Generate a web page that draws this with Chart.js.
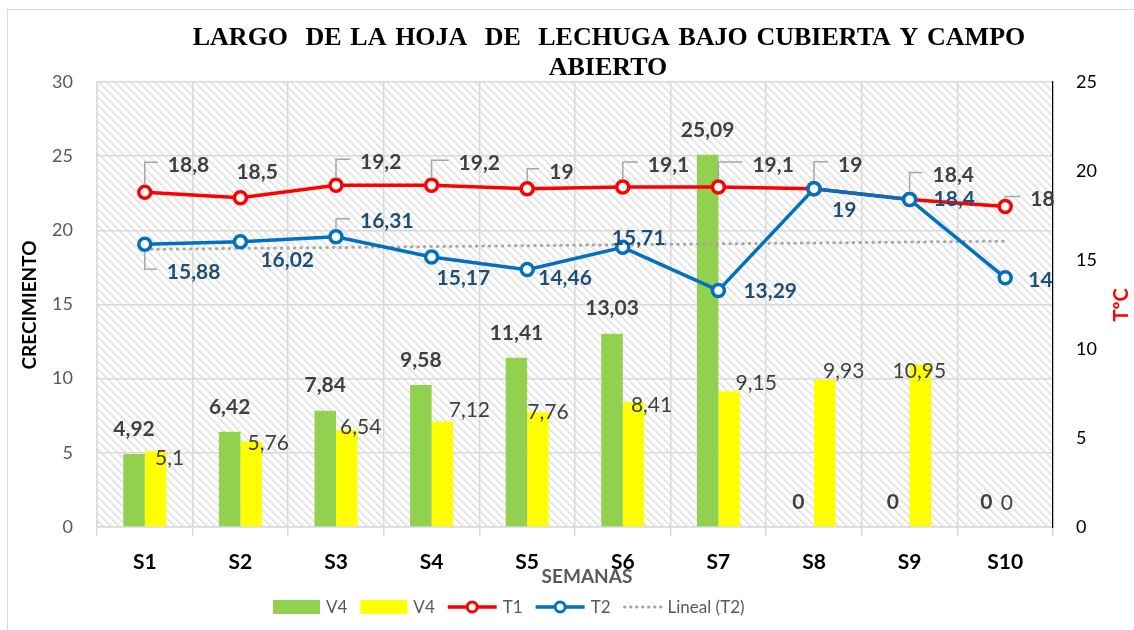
<!DOCTYPE html>
<html>
<head>
<meta charset="utf-8">
<script src="https://cdn.jsdelivr.net/npm/chart.js@4.4.1/dist/chart.umd.min.js"></script>
<style>
  html, body { margin: 0; padding: 0; background: #fff; }
  #wrap { width: 1134px; height: 630px; position: relative; }
</style>
</head>
<body>
<div id="wrap"><canvas id="grafico"></canvas></div>
<script>
// datos
const semanas = ['S1', 'S2', 'S3', 'S4', 'S5', 'S6', 'S7', 'S8', 'S9', 'S10'];
const v4Verde = [4.92, 6.42, 7.84, 9.58, 11.41, 13.03, 25.09, 0, 0, 0];
const v4Amarillo = [5.1, 5.76, 6.54, 7.12, 7.76, 8.41, 9.15, 9.93, 10.95, 0];
const t1 = [18.8, 18.5, 19.2, 19.2, 19, 19.1, 19.1, 19, 18.4, 18];
const t2 = [15.88, 16.02, 16.31, 15.17, 14.46, 15.71, 13.29, 19, 18.4, 14];
const linealT2 = [15.6, null, null, null, null, null, null, null, null, 16.06];
const ticksCrecimiento = [0, 5, 10, 15, 20, 25, 30];
const ticksTemp = [0, 5, 10, 15, 20, 25];

// desplazamiento de etiquetas (px): [dx, dy, linea guia]
const posT1 = [[23,-27,1],[-4,-25,0],[24,-23,1],[27,-22,1],[22,-17,1],[25,-22,1],[34,-22,1],[24,-24,1],[23,-24,1],[25,-7,1]];
const posT2 = [[22,28,1],[20,18,0],[24,-15,1],[5,21,0],[11,9,0],[-11,-9,0],[25,1,0],[18,21,0],[24,0,0],[23,2,0]];
const posAmarillo = [[14,7],[17,1.5],[14,-3],[27,-11],[10,0],[18,3],[27,-8],[19,-8],[-1,7],[-9,-24]];
const posVerde = [0, 0, 0, 0, 0, 0, 0, -5, -6, -8];

const fmt = v => String(v).replace('.', ',');
const FAM = 'Lato, "Open Sans", sans-serif';

function tramado() {
    const c = document.createElement('canvas');
    c.width = 8; c.height = 8;
    const g = c.getContext('2d');
    const img = g.createImageData(8, 8);
    for (let y = 0; y < 8; y++) {
        for (let x = 0; x < 8; x++) {
            const k = ((x - y) % 8 + 8) % 8;
            const v = k < 2 ? 227 : (k === 2 ? 243 : 255);
            const i = (y * 8 + x) * 4;
            img.data[i] = v; img.data[i + 1] = v; img.data[i + 2] = v; img.data[i + 3] = 255;
        }
    }
    g.putImageData(img, 0, 0);
    return c;
}

const extras = {
    id: 'extras',
    beforeDraw(chart) {
        const ctx = chart.ctx, a = chart.chartArea;
        ctx.save();
        ctx.fillStyle = '#fff';
        ctx.fillRect(0, 0, chart.width, chart.height);
        ctx.strokeStyle = '#d9d9d9';
        ctx.lineWidth = 1;
        ctx.strokeRect(7.5, 9.5, 1140, 640);
        ctx.fillStyle = ctx.createPattern(tramado(), 'repeat');
        ctx.fillRect(a.left, a.top, a.right - a.left, a.bottom - a.top);
        ctx.restore();
    },
    afterDatasetsDraw(chart) {
        const ctx = chart.ctx;
        ctx.save();
        ctx.textBaseline = 'middle';
        // barras verdes
        ctx.font = 'bold 21px ' + FAM;
        ctx.fillStyle = '#404040';
        ctx.textAlign = 'center';
        chart.getDatasetMeta(0).data.forEach((b, i) => {
            ctx.fillText(fmt(v4Verde[i]), b.x + posVerde[i], b.y - 25);
        });
        // barras amarillas
        ctx.font = '21px ' + FAM;
        chart.getDatasetMeta(1).data.forEach((b, i) => {
            ctx.fillText(fmt(v4Amarillo[i]), b.x + posAmarillo[i][0], b.y + posAmarillo[i][1]);
        });
        // lineas
        const lineas = [[2, t1, posT1, '#404040'], [3, t2, posT2, '#1F4E79']];
        ctx.textAlign = 'left';
        lineas.forEach(([idx, vals, pos, col]) => {
            chart.getDatasetMeta(idx).data.forEach((p, i) => {
                const [dx, dy, guia] = pos[i];
                const tx = p.x + dx, cy = p.y + dy;
                if (guia) {
                    const gy = cy - 3;
                    const sy = gy < p.y ? p.y - 8 : p.y + 8;
                    ctx.strokeStyle = '#a6a6a6';
                    ctx.lineWidth = 1.5;
                    ctx.beginPath();
                    ctx.moveTo(p.x, sy);
                    ctx.lineTo(p.x, gy);
                    ctx.lineTo(tx - 10, gy);
                    ctx.stroke();
                }
                ctx.font = 'bold 21px ' + FAM;
                ctx.fillStyle = col;
                ctx.fillText(fmt(vals[i]), tx, cy);
            });
        });
        ctx.restore();
    },
    afterDraw(chart) {
        const ctx = chart.ctx;
        ctx.save();
        ctx.textBaseline = 'middle';
        ctx.textAlign = 'center';
        ctx.fillStyle = '#000';
        ctx.font = 'bold 26px "Liberation Serif", "Times New Roman", serif';
        if ('wordSpacing' in ctx) ctx.wordSpacing = '2.2px';
        ctx.fillText('LARGO  DE LA HOJA  DE  LECHUGA BAJO CUBIERTA Y CAMPO', 609, 38);
        if ('wordSpacing' in ctx) ctx.wordSpacing = '0px';
        ctx.fillText('ABIERTO', 608, 68);

        ctx.font = 'bold 19px ' + FAM;
        ctx.fillStyle = '#595959';
        ctx.fillText('SEMANAS', 587, 577);

        ctx.save();
        ctx.translate(30, 305);
        ctx.rotate(-Math.PI / 2);
        ctx.fillStyle = '#000';
        ctx.font = 'bold 19px ' + FAM;
        ctx.fillText('CRECIMIENTO', 0, 0);
        ctx.restore();

        ctx.save();
        ctx.translate(1122, 305);
        ctx.rotate(-Math.PI / 2);
        ctx.fillStyle = '#FF0000';
        ctx.font = 'bold 20px ' + FAM;
        ctx.fillText('TºC', 0, 0);
        ctx.restore();

        // leyenda
        ctx.font = '17px ' + FAM;
        ctx.textAlign = 'left';
        let x = 273;
        const y = 607;
        chart.data.datasets.forEach(ds => {
            if (ds.type !== 'line') {
                ctx.fillStyle = ds.backgroundColor;
                ctx.fillRect(x, y - 7, 47, 14);
                x += 47;
            } else if (ds.pointRadius > 0) {
                ctx.strokeStyle = ds.borderColor;
                ctx.lineWidth = 3.5;
                ctx.beginPath();
                ctx.moveTo(x, y); ctx.lineTo(x + 49, y);
                ctx.stroke();
                ctx.beginPath();
                ctx.arc(x + 24.5, y, 5, 0, Math.PI * 2);
                ctx.fillStyle = '#fff';
                ctx.fill();
                ctx.lineWidth = 3;
                ctx.stroke();
                x += 49;
            } else {
                ctx.strokeStyle = ds.borderColor;
                ctx.lineWidth = 3;
                ctx.lineCap = 'round';
                ctx.setLineDash([0.5, 5.5]);
                ctx.beginPath();
                ctx.moveTo(x + 1, y); ctx.lineTo(x + 38, y);
                ctx.stroke();
                ctx.setLineDash([]);
                ctx.lineCap = 'butt';
                x += 38;
            }
            x += 6;
            ctx.fillStyle = '#595959';
            ctx.fillText(ds.label, x, y + 1);
            x += ctx.measureText(ds.label).width + 13;
        });
        ctx.restore();
    }
};

const ctx = document.getElementById('grafico').getContext('2d');
new Chart(ctx, {
    type: 'bar',
    data: {
        labels: semanas,
        datasets: [
            { label: 'V4', data: v4Verde, backgroundColor: '#92D050', categoryPercentage: 0.45, barPercentage: 1, yAxisID: 'y', order: 5 },
            { label: 'V4', data: v4Amarillo, backgroundColor: '#FFFF00', categoryPercentage: 0.45, barPercentage: 1, yAxisID: 'y', order: 5 },
            { type: 'line', label: 'T1', data: t1, yAxisID: 'y2', borderColor: '#FF0000', borderWidth: 3.5,
              pointRadius: 6, pointBorderWidth: 3.5, pointBackgroundColor: '#fff', pointBorderColor: '#FF0000', order: 2 },
            { type: 'line', label: 'T2', data: t2, yAxisID: 'y2', borderColor: '#0070C0', borderWidth: 3.5,
              pointRadius: 6, pointBorderWidth: 3.5, pointBackgroundColor: '#fff', pointBorderColor: '#0070C0', order: 1 },
            { type: 'line', label: 'Lineal (T2)', data: linealT2, yAxisID: 'y2', borderColor: '#A6A6A6', borderWidth: 3,
              borderDash: [0.5, 6], borderCapStyle: 'round', pointRadius: 0, spanGaps: true, order: 3 }
        ]
    },
    options: {
        responsive: true,
        maintainAspectRatio: false,
        animation: false,
        layout: { padding: { top: 82, left: 0, right: 0, bottom: 0 } },
        plugins: {
            legend: { display: false },
            title: { display: false },
            tooltip: { enabled: false }
        },
        scales: {
            x: {
                offset: true,
                grid: { offset: true, color: '#d9d9d9', lineWidth: 1.5, tickLength: 9 },
                border: { color: '#d9d9d9', width: 1.5 },
                ticks: { color: '#000', font: { family: FAM, size: 21, weight: 'bold' }, padding: 14, maxRotation: 0, autoSkip: false },
                afterFit: s => { s.height = 103; }
            },
            y: {
                position: 'left',
                min: ticksCrecimiento[0],
                max: ticksCrecimiento[ticksCrecimiento.length - 1],
                ticks: { stepSize: ticksCrecimiento[1] - ticksCrecimiento[0], color: '#595959', font: { family: FAM, size: 18 }, padding: 24 },
                grid: { color: '#d9d9d9', lineWidth: 1.5, drawTicks: false },
                border: { color: '#d9d9d9', width: 1.5 },
                afterFit: s => { s.width = 97; }
            },
            y2: {
                position: 'right',
                min: ticksTemp[0],
                max: ticksTemp[ticksTemp.length - 1],
                ticks: { stepSize: ticksTemp[1] - ticksTemp[0], color: '#000', font: { family: FAM, size: 18 }, padding: 23 },
                grid: { drawOnChartArea: false, drawTicks: false },
                border: { color: '#000', width: 1.2 },
                afterFit: s => { s.width = 81; }
            }
        }
    },
    plugins: [extras]
});
</script>
</body>
</html>
